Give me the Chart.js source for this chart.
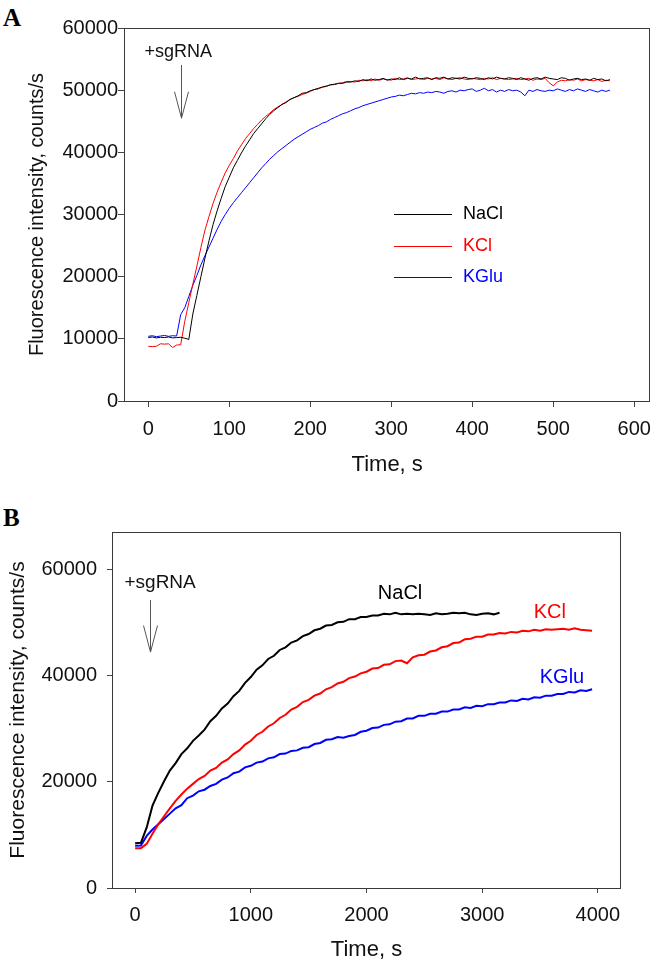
<!DOCTYPE html>
<html>
<head>
<meta charset="utf-8">
<script src="https://cdn.jsdelivr.net/npm/chart.js@4.4.0/dist/chart.umd.min.js"></script>
<style>
  html,body{margin:0;padding:0;background:#fff;}
  body{width:661px;height:965px;position:relative;overflow:hidden;font-family:'Liberation Sans',Arial,sans-serif;}
  canvas{position:absolute;left:0;}
  #cA{top:0;} #cB{top:485px;}
  .panel{position:absolute;left:3px;font-family:'Liberation Serif','Times New Roman',serif;font-weight:bold;font-size:25px;line-height:1;color:#000;}
</style>
</head>
<body>
<div class="panel" style="top:5px;">A</div>
<div class="panel" style="top:505px;">B</div>
<canvas id="cA" width="661" height="485"></canvas>
<canvas id="cB" width="661" height="480"></canvas>
<script>
// ── data ──
const seriesNames = ['NaCl', 'KCl', 'KGlu'];
const seriesColors = ['#000000', '#ff0000', '#0000ff'];

// tick values
const xTicksA = [0, 100, 200, 300, 400, 500, 600];
const yTicksA = [0, 10000, 20000, 30000, 40000, 50000, 60000];
const xTicksB = [0, 1000, 2000, 3000, 4000];
const yTicksB = [0, 20000, 40000, 60000];

// panel A: sampled every 5 s, 0..570 s
const stepA = 5;
const naclA = [
  10200,10300,10150,10250,10200,10300,10150,10200,10250,10100,
  9900,14000,17000,20000,23000,25800,28400,30600,32600,34500,
  36000,37500,38700,39900,41000,42000,43000,43800,44600,45400,
  46100,46700,47200,47700,48000,48500,48800,49100,49500,49600,
  49900,50100,50300,50500,50600,50900,50900,51100,51100,51300,
  51300,51500,51400,51700,51500,51800,51600,51700,51900,51600,
  51800,51700,52000,51700,51900,51800,52100,51800,51900,52000,
  51700,52000,51900,52100,51800,52000,51900,51800,52100,51900,
  51800,52000,51900,51700,52000,51800,52100,51900,51800,52000,
  51900,51700,52000,51800,51600,51900,52000,51800,52100,51900,
  51800,51700,52000,51900,51600,51800,51900,51700,51800,51600,
  51900,51700,51800,51500,51700
];
const kclA = [
  8800,8750,8800,9200,9150,9200,8600,9000,9050,12800,
  15800,18800,21700,24700,27500,29700,31800,33600,35200,36700,
  37900,39000,40200,41200,42200,43000,43800,44500,45200,45800,
  46300,46900,47300,47700,48100,48500,48800,49000,49300,49500,
  49800,50100,50200,50500,50700,50800,51000,51100,51200,51400,
  51400,51300,51600,51500,51700,51500,51800,51600,51800,51700,
  51600,51900,51700,51800,52000,51700,51800,51900,51700,51900,
  51800,51900,51700,52000,51800,51700,51900,52000,51800,51700,
  51900,51800,51700,51900,51800,52000,51700,51900,51800,51700,
  51800,51900,51700,51800,51900,51600,51800,51700,51900,51200,
  50700,51300,51600,51500,51700,51600,51800,51500,51700,51600,
  51500,51700,51400,51600,51500
];
const kgluA = [
  10400,10500,10350,10450,10550,10400,10500,10450,13900,15000,
  16800,18600,20200,21900,23400,24800,26200,27600,28900,30000,
  31000,31900,32700,33500,34300,35100,35900,36700,37500,38200,
  38900,39500,40100,40600,41100,41600,42100,42500,42900,43300,
  43700,44000,44300,44700,44900,45300,45600,45900,46200,46400,
  46700,47000,47200,47500,47700,47900,48100,48300,48500,48700,
  48900,49000,49200,49100,49300,49500,49400,49600,49500,49700,
  49600,49800,49700,49500,49800,49900,49700,50000,49900,50100,
  50200,49800,50000,50300,49900,50100,49700,50000,49800,50100,
  49900,50000,49700,49100,50000,49800,50100,49900,49800,50000,
  49900,50200,50000,49800,50100,49900,50200,50000,49800,50100,
  49900,49700,50000,49800,50000
];

// panel B: sampled every 50 s, 0..3950 s
const stepB = 50;
const naclB = [
  8400,8500,11400,15500,17900,20100,22100,23500,25200,26300,
  27700,28700,29800,31400,32400,33800,34700,36100,37100,38600,
  39700,41100,41900,43100,43700,44800,45300,46200,46600,47400,
  47800,48500,48800,49400,49500,50000,50100,50600,50600,51000,
  51000,51300,51300,51600,51500,51800,51500,51600,51500,51600,
  51500,51400,51700,51500,51600,51800,51700,51800,51500,51400,
  51600,51700,51500,51800
];
const kclB = [
  7460,7500,8300,10200,12000,13500,15000,16400,17600,18700,
  19600,20500,21100,22100,22600,23600,24200,25200,25900,27000,
  27700,28800,29400,30400,31000,32000,32600,33600,34100,35000,
  35400,36200,36600,37400,37800,38500,38800,39500,39800,40400,
  40700,41300,41400,42000,42100,42700,42800,42300,43400,43800,
  43900,44500,44700,45300,45500,46100,46200,46800,46900,47300,
  47300,47700,47700,48000,47900,48200,48100,48400,48300,48600,
  48400,48700,48600,48700,48800,48600,48900,48600,48500,48400
];
const kgluB = [
  7950,8000,9800,11000,12000,13000,14000,15000,15600,16900,
  17400,18200,18500,19200,19600,20400,20800,21600,21900,22700,
  23000,23600,23800,24400,24600,25200,25300,25800,25900,26400,
  26500,27100,27300,27900,28000,28400,28300,28600,28800,29400,
  29600,30100,30200,30700,30800,31300,31400,31900,31900,32400,
  32400,32800,32800,33200,33200,33600,33600,34000,33900,34300,
  34200,34600,34600,34900,34900,35300,35200,35600,35500,35900,
  35800,36200,36200,36500,36500,36900,36800,37200,37100,37400
];

// annotations (data coordinates)
const sgA = { label: '+sgRNA', textX: 37, textY: 56200, arrowX: 41, arrowTop: 54050, headTop: 49750, arrowTip: 45500 };
const sgB = { label: '+sgRNA', textX: 216, textY: 57500, arrowX: 130, arrowTop: 54200, headTop: 49400, arrowTip: 44400 };
const tagsB = [ { x: 2290, y: 55500 }, { x: 3585, y: 51900 }, { x: 3690, y: 39700 } ];

// ── helpers ──
const FONT = "'Liberation Sans', Arial, sans-serif";
const toXY = (arr, step) => arr.map((v, i) => ({ x: i * step, y: v }));

const frame = {
  id: 'frame',
  afterDraw(chart) {
    const { ctx, chartArea: a } = chart;
    ctx.save();
    ctx.strokeStyle = '#3a3a3a';
    ctx.lineWidth = 1;
    ctx.strokeRect(Math.round(a.left) + 0.5, Math.round(a.top) + 0.5, Math.round(a.right - a.left) - 1, Math.round(a.bottom - a.top));
    ctx.restore();
  }
};

function arrowPlugin(sg, fontSize, half) {
  return {
    id: 'sgArrow',
    afterDatasetsDraw(chart) {
      const { ctx, scales: { x, y } } = chart;
      ctx.save();
      ctx.fillStyle = '#111';
      ctx.font = fontSize + 'px ' + FONT;
      ctx.textAlign = 'center';
      ctx.textBaseline = 'middle';
      ctx.fillText(sg.label, x.getPixelForValue(sg.textX), y.getPixelForValue(sg.textY));
      const ax = Math.round(x.getPixelForValue(sg.arrowX)) + 0.5;
      const t = y.getPixelForValue(sg.arrowTop), h = y.getPixelForValue(sg.headTop), b = y.getPixelForValue(sg.arrowTip);
      ctx.strokeStyle = '#555';
      ctx.lineWidth = 1;
      ctx.beginPath();
      ctx.moveTo(ax, t); ctx.lineTo(ax, b);
      ctx.moveTo(ax - half, h); ctx.lineTo(ax, b); ctx.lineTo(ax + half, h);
      ctx.stroke();
      ctx.restore();
    }
  };
}

const legendA = {
  id: 'legendA',
  afterDatasetsDraw(chart) {
    const { ctx } = chart;
    ctx.save();
    ctx.font = '18px ' + FONT;
    ctx.textBaseline = 'middle';
    ctx.textAlign = 'left';
    const rows = [214, 246, 277];
    chart.data.datasets.forEach((ds, i) => {
      ctx.strokeStyle = ds.borderColor;
      ctx.lineWidth = 1;
      ctx.beginPath();
      ctx.moveTo(394, rows[i] + 0.5); ctx.lineTo(452, rows[i] + 0.5);
      ctx.stroke();
      ctx.fillStyle = ds.borderColor;
      ctx.fillText(ds.label, 463, rows[i]);
    });
    ctx.restore();
  }
};

const tagsPlugin = {
  id: 'tagsB',
  afterDatasetsDraw(chart) {
    const { ctx, scales: { x, y } } = chart;
    ctx.save();
    ctx.font = '20px ' + FONT;
    ctx.textAlign = 'center';
    ctx.textBaseline = 'middle';
    chart.data.datasets.forEach((ds, i) => {
      ctx.fillStyle = ds.borderColor;
      ctx.fillText(ds.label, x.getPixelForValue(tagsB[i].x), y.getPixelForValue(tagsB[i].y));
    });
    ctx.restore();
  }
};

const setTicks = vals => s => { s.ticks = vals.map(v => ({ value: v })); };

function axes(o) {
  return {
    x: {
      type: 'linear', min: o.xMin, max: o.xMax,
      afterBuildTicks: setTicks(o.xTicks),
      afterFit: s => { s.height = o.xH; },
      border: { display: false },
      grid: { drawOnChartArea: false, drawTicks: true, tickLength: o.tick, color: '#444' },
      ticks: { padding: o.xPad, color: '#111', font: { family: FONT, size: 20 }, maxRotation: 0, autoSkip: false, callback: v => String(v) },
      title: { display: true, text: 'Time, s', color: '#111', font: { family: FONT, size: 22 }, padding: { top: 0, bottom: o.xTitlePad } }
    },
    y: {
      type: 'linear', min: 0, max: o.yMax,
      afterBuildTicks: setTicks(o.yTicks),
      afterFit: s => { s.width = o.yW; },
      border: { display: false },
      grid: { drawOnChartArea: false, drawTicks: true, tickLength: o.tick, color: '#444' },
      ticks: { padding: o.yPad, color: '#111', font: { family: FONT, size: 20 }, autoSkip: false, callback: v => String(v) },
      title: { display: true, text: 'Fluorescence intensity, counts/s', color: '#111', font: { family: FONT, size: o.yTitleSize }, padding: { top: o.yTitlePad, bottom: 0 } }
    }
  };
}

const common = {
  responsive: false, animation: false, devicePixelRatio: 1,
  elements: { point: { radius: 0 }, line: { tension: 0 } },
  plugins: { legend: { display: false }, tooltip: { enabled: false } }
};

// ── PANEL A ──
new Chart(document.getElementById('cA'), {
  type: 'line',
  data: {
    datasets: [naclA, kclA, kgluA].map((arr, i) => ({
      label: seriesNames[i], data: toXY(arr, stepA), borderColor: seriesColors[i], borderWidth: 1
    }))
  },
  options: {
    ...common,
    layout: { padding: { left: 0, right: 4, top: 28, bottom: 0 } },
    scales: axes({ xMin: -30, xMax: 620, xTicks: xTicksA, xH: 84, xPad: 10, xTitlePad: 7,
                   yMax: 60000, yTicks: yTicksA, yW: 124, yPad: 0, yTitleSize: 20, yTitlePad: 25, tick: 6 })
  },
  plugins: [frame, arrowPlugin(sgA, 18, 7), legendA]
});

// ── PANEL B ──
new Chart(document.getElementById('cB'), {
  type: 'line',
  data: {
    datasets: [naclB, kclB, kgluB].map((arr, i) => ({
      label: seriesNames[i], data: toXY(arr, stepB), borderColor: seriesColors[i], borderWidth: 2
    }))
  },
  options: {
    ...common,
    layout: { padding: { left: 0, right: 40, top: 47, bottom: 0 } },
    scales: axes({ xMin: -200, xMax: 4200, xTicks: xTicksB, xH: 77, xPad: 10, xTitlePad: 2,
                   yMax: 67000, yTicks: yTicksB, yW: 112, yPad: 10, yTitleSize: 21, yTitlePad: 6, tick: 5 })
  },
  plugins: [frame, arrowPlugin(sgB, 19, 7), tagsPlugin]
});
</script>
</body>
</html>
